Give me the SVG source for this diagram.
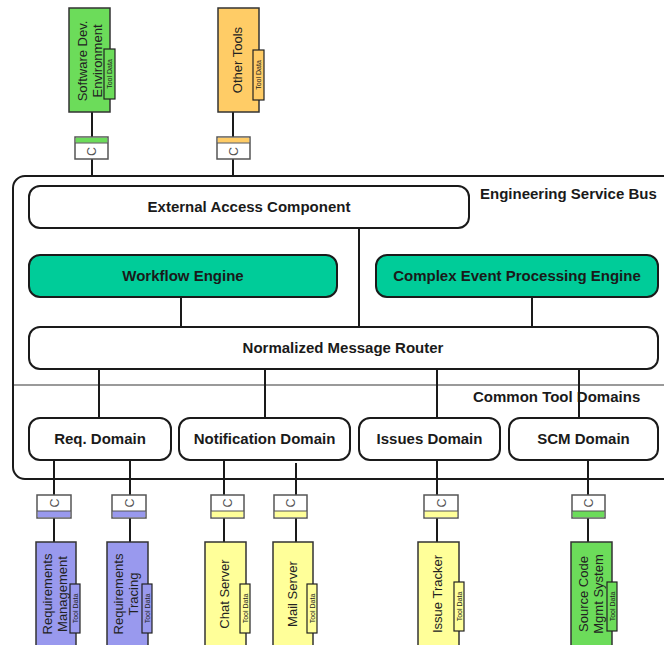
<svg xmlns="http://www.w3.org/2000/svg" width="664" height="645" viewBox="0 0 664 645">
<style>
.bg{fill:#ffffff}
.bus{fill:none;stroke:#1a1a1a;stroke-width:2}
.sep{stroke:#9a9a9a;stroke-width:2}
.node{fill:#ffffff;stroke:#1a1a1a;stroke-width:2}
.eng{fill:#00cc99;stroke:#1a1a1a;stroke-width:2}
.lbl{font-family:"Liberation Sans",Arial,sans-serif;font-weight:bold;font-size:15px;fill:#1a1a1a}
.mid{text-anchor:middle}
.tool{stroke:#333;stroke-width:1.5}
.ttxt{font-family:"Liberation Sans",Arial,sans-serif;font-size:13px;fill:#222;text-anchor:middle}
.tag{stroke:#222;stroke-width:1.2}
.tagtxt{font-family:"Liberation Sans",Arial,sans-serif;font-size:7px;fill:#222;text-anchor:middle}
.conn{fill:#ffffff;stroke:#555;stroke-width:1.5}
.ctxt{font-family:"Liberation Sans",Arial,sans-serif;font-size:12.5px;fill:#555;text-anchor:middle}
.green{fill:#6cdc5a}
.orange{fill:#ffcc66}
.purple{fill:#9999ee}
.yellow{fill:#ffff99}
.wire{stroke:#1a1a1a;stroke-width:2;fill:none}
</style>
<rect class="bg" x="0" y="0" width="664" height="645"/>

<g id="bus">
<rect class="bus" x="13" y="176" width="690" height="303" rx="12"/>
<line class="sep" x1="14" y1="385" x2="664" y2="385"/>
<text class="lbl" x="480" y="199">Engineering Service Bus</text>
<text class="lbl" x="473" y="402">Common Tool Domains</text>
</g>

<g id="connectors">
<line class="wire" x1="92" y1="112" x2="92" y2="176"/>
<line class="wire" x1="233" y1="112" x2="233" y2="176"/>
<line class="wire" x1="359" y1="228" x2="359" y2="327"/>
<line class="wire" x1="181" y1="297" x2="181" y2="327"/>
<line class="wire" x1="532" y1="297" x2="532" y2="327"/>
<line class="wire" x1="99" y1="369" x2="99" y2="417"/>
<line class="wire" x1="265" y1="369" x2="265" y2="417"/>
<line class="wire" x1="437" y1="369" x2="437" y2="417"/>
<line class="wire" x1="579" y1="369" x2="579" y2="417"/>
<line class="wire" x1="54" y1="460" x2="54" y2="542"/>
<line class="wire" x1="130" y1="460" x2="130" y2="542"/>
<line class="wire" x1="224" y1="460" x2="224" y2="542"/>
<line class="wire" x1="296" y1="463" x2="296" y2="542"/>
<line class="wire" x1="437" y1="460" x2="437" y2="542"/>
<line class="wire" x1="588" y1="460" x2="588" y2="542"/>
</g>

<g id="external-access">
<rect class="node" x="29" y="186" width="440" height="42" rx="11"/>
<text class="lbl mid" x="249" y="212">External Access Component</text>
</g>
<g id="workflow-engine">
<rect class="eng" x="29" y="255" width="308" height="42" rx="11"/>
<text class="lbl mid" x="183" y="281">Workflow Engine</text>
</g>
<g id="cep-engine">
<rect class="eng" x="376" y="255" width="282" height="42" rx="11"/>
<text class="lbl mid" x="517" y="281">Complex Event Processing Engine</text>
</g>
<g id="message-router">
<rect class="node" x="29" y="327" width="629" height="42" rx="11"/>
<text class="lbl mid" x="343" y="353">Normalized Message Router</text>
</g>
<g id="req-domain">
<rect class="node" x="29" y="418" width="142" height="42" rx="11"/>
<text class="lbl mid" x="100" y="444">Req. Domain</text>
</g>
<g id="notification-domain">
<rect class="node" x="179" y="418" width="171" height="42" rx="11"/>
<text class="lbl mid" x="264.5" y="444">Notification Domain</text>
</g>
<g id="issues-domain">
<rect class="node" x="359" y="418" width="141" height="42" rx="11"/>
<text class="lbl mid" x="429.5" y="444">Issues Domain</text>
</g>
<g id="scm-domain">
<rect class="node" x="509" y="418" width="149" height="42" rx="11"/>
<text class="lbl mid" x="583.5" y="444">SCM Domain</text>
</g>

<!-- interface connectors -->
<g id="if-sde">
<rect class="conn" x="75" y="137" width="33" height="22"/>
<rect class="green" x="75.8" y="137.8" width="31.4" height="5"/>
<line x1="75" y1="143" x2="108" y2="143" stroke="#555" stroke-width="1"/>
<text class="ctxt" transform="translate(91.5,151.5) rotate(-90)" y="4.5">C</text>
</g>
<g id="if-other">
<rect class="conn" x="217" y="137" width="33" height="22"/>
<rect class="orange" x="217.8" y="137.8" width="31.4" height="5"/>
<line x1="217" y1="143" x2="250" y2="143" stroke="#555" stroke-width="1"/>
<text class="ctxt" transform="translate(233.5,151.5) rotate(-90)" y="4.5">C</text>
</g>
<g id="if-reqmgmt">
<rect class="conn" x="37" y="495" width="34" height="23"/>
<rect class="purple" x="37.8" y="511" width="32.4" height="6.2"/>
<line x1="37" y1="511" x2="71" y2="511" stroke="#555" stroke-width="1"/>
<text class="ctxt" transform="translate(54,503) rotate(-90)" y="4.5">C</text>
</g>
<g id="if-reqtrace">
<rect class="conn" x="112" y="495" width="34" height="23"/>
<rect class="purple" x="112.8" y="511" width="32.4" height="6.2"/>
<line x1="112" y1="511" x2="146" y2="511" stroke="#555" stroke-width="1"/>
<text class="ctxt" transform="translate(129,503) rotate(-90)" y="4.5">C</text>
</g>
<g id="if-chat">
<rect class="conn" x="211" y="495" width="33" height="23"/>
<rect class="yellow" x="211.8" y="511" width="31.4" height="6.2"/>
<line x1="211" y1="511" x2="244" y2="511" stroke="#555" stroke-width="1"/>
<text class="ctxt" transform="translate(227.5,503) rotate(-90)" y="4.5">C</text>
</g>
<g id="if-mail">
<rect class="conn" x="274" y="495" width="33" height="23"/>
<rect class="yellow" x="274.8" y="511" width="31.4" height="6.2"/>
<line x1="274" y1="511" x2="307" y2="511" stroke="#555" stroke-width="1"/>
<text class="ctxt" transform="translate(290.5,503) rotate(-90)" y="4.5">C</text>
</g>
<g id="if-issue">
<rect class="conn" x="424" y="495" width="34" height="23"/>
<rect class="yellow" x="424.8" y="511" width="32.4" height="6.2"/>
<line x1="424" y1="511" x2="458" y2="511" stroke="#555" stroke-width="1"/>
<text class="ctxt" transform="translate(441,503) rotate(-90)" y="4.5">C</text>
</g>
<g id="if-scm">
<rect class="conn" x="572" y="495" width="33" height="23"/>
<rect class="green" x="572.8" y="511" width="31.4" height="6.2"/>
<line x1="572" y1="511" x2="605" y2="511" stroke="#555" stroke-width="1"/>
<text class="ctxt" transform="translate(588.5,503) rotate(-90)" y="4.5">C</text>
</g>

<!-- tools -->
<g id="tool-sde">
<rect class="tool green" x="69" y="8" width="41" height="104"/>
<text class="ttxt" transform="translate(89.5,61) rotate(-90)"><tspan x="0" y="-3">Software Dev.</tspan><tspan x="0" y="12">Environment</tspan></text>
<rect class="tag green" x="104" y="49" width="11" height="50"/>
<text class="tagtxt" transform="translate(109.5,74) rotate(-90)" y="2.5">Tool Data</text>
</g>
<g id="tool-other">
<rect class="tool orange" x="218" y="8" width="41" height="104"/>
<text class="ttxt" transform="translate(237,60) rotate(-90)" y="4.5">Other Tools</text>
<rect class="tag orange" x="253" y="50" width="11" height="50"/>
<text class="tagtxt" transform="translate(258.5,75) rotate(-90)" y="2.5">Tool Data</text>
</g>
<g id="tool-reqmgmt">
<rect class="tool purple" x="36" y="542" width="40" height="106"/>
<text class="ttxt" transform="translate(55,594) rotate(-90)"><tspan x="0" y="-3">Requirements</tspan><tspan x="0" y="12">Management</tspan></text>
<rect class="tag purple" x="70" y="584" width="10" height="49"/>
<text class="tagtxt" transform="translate(75,608.5) rotate(-90)" y="2.5">Tool Data</text>
</g>
<g id="tool-reqtrace">
<rect class="tool purple" x="107" y="542" width="41" height="106"/>
<text class="ttxt" transform="translate(126,594) rotate(-90)"><tspan x="0" y="-3">Requirements</tspan><tspan x="0" y="12">Tracing</tspan></text>
<rect class="tag purple" x="142" y="584" width="10" height="49"/>
<text class="tagtxt" transform="translate(147,608.5) rotate(-90)" y="2.5">Tool Data</text>
</g>
<g id="tool-chat">
<rect class="tool yellow" x="205" y="542" width="41" height="106"/>
<text class="ttxt" transform="translate(224,594) rotate(-90)" y="4.5">Chat Server</text>
<rect class="tag yellow" x="240" y="584" width="10" height="49"/>
<text class="tagtxt" transform="translate(245,608.5) rotate(-90)" y="2.5">Tool Data</text>
</g>
<g id="tool-mail">
<rect class="tool yellow" x="273" y="542" width="40" height="106"/>
<text class="ttxt" transform="translate(292,594) rotate(-90)" y="4.5">Mail Server</text>
<rect class="tag yellow" x="307" y="584" width="10" height="49"/>
<text class="tagtxt" transform="translate(312,608.5) rotate(-90)" y="2.5">Tool Data</text>
</g>
<g id="tool-issue">
<rect class="tool yellow" x="418" y="542" width="41" height="106"/>
<text class="ttxt" transform="translate(437,594) rotate(-90)" y="4.5">Issue Tracker</text>
<rect class="tag yellow" x="454" y="582" width="10" height="49"/>
<text class="tagtxt" transform="translate(459,606.5) rotate(-90)" y="2.5">Tool Data</text>
</g>
<g id="tool-scm">
<rect class="tool green" x="571" y="542" width="41" height="106"/>
<text class="ttxt" transform="translate(591,594) rotate(-90)"><tspan x="0" y="-3">Source Code</tspan><tspan x="0" y="12">Mgmt System</tspan></text>
<rect class="tag green" x="607" y="582" width="10" height="49"/>
<text class="tagtxt" transform="translate(612,606.5) rotate(-90)" y="2.5">Tool Data</text>
</g>
</svg>
